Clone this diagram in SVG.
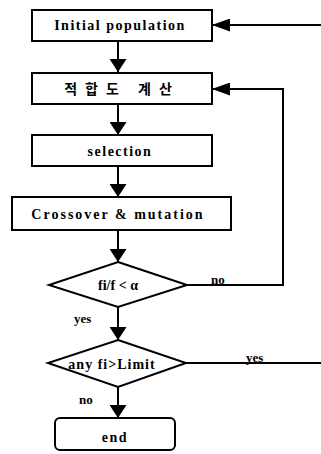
<svg xmlns="http://www.w3.org/2000/svg" width="321" height="454" viewBox="0 0 321 454">
<style>
.box{fill:#fff;stroke:#000;stroke-width:2}
.ln{fill:none;stroke:#000;stroke-width:2}
.t{font-family:"Liberation Serif","Noto Sans CJK KR",serif;font-size:14px;font-weight:bold;fill:#000;text-anchor:middle}
.k{font-family:"Noto Sans CJK KR",sans-serif;font-size:14px;font-weight:bold;fill:#000;text-anchor:middle}
.lab{font-family:"Liberation Serif",serif;font-size:13px;font-weight:bold;fill:#000}
</style>
<defs>
<marker id="ah" viewBox="0 0 10 10" refX="10" refY="5" markerWidth="18" markerHeight="13" markerUnits="userSpaceOnUse" orient="auto" preserveAspectRatio="none">
<path d="M0,0 L10,5 L0,10 Z" fill="#000"/>
</marker>
<marker id="av" viewBox="0 0 10 10" refX="10" refY="5" markerWidth="13" markerHeight="17" markerUnits="userSpaceOnUse" orient="auto" preserveAspectRatio="none">
<path d="M0,0 L10,5 L0,10 Z" fill="#000"/>
</marker>
</defs>
<g id="connectors">
<path class="ln" d="M118,41 V72" marker-end="url(#av)"/>
<path class="ln" d="M118,104 V135" marker-end="url(#av)"/>
<path class="ln" d="M118,166 V197" marker-end="url(#av)"/>
<path class="ln" d="M118,230 V262" marker-end="url(#av)"/>
<path class="ln" d="M118,307 V340" marker-end="url(#av)"/>
<path class="ln" d="M118,387 V418" marker-end="url(#av)"/>
<path class="ln" d="M187,285 H283 V89 H212" marker-end="url(#ah)"/>
<path class="ln" d="M321,25 H212" marker-end="url(#ah)"/>
<path class="ln" d="M186,363 H321"/>
<text class="lab" x="211" y="284">no</text>
<text class="lab" x="246" y="362">yes</text>
<text class="lab" x="74" y="323">yes</text>
<text class="lab" x="79" y="404">no</text>
</g>
<g id="init">
<rect class="box" x="32" y="10" width="180" height="31"/>
<text class="t" x="120" y="30" letter-spacing="1.5">Initial population</text>
</g>
<g id="fitness">
<rect class="box" x="32" y="73" width="180" height="31"/>
<text class="k" x="122" y="94" letter-spacing="8">적합도 계산</text>
</g>
<g id="selection">
<rect class="box" x="32" y="135" width="180" height="31"/>
<text class="t" x="120" y="156" letter-spacing="1.5">selection</text>
</g>
<g id="crossover">
<rect class="box" x="12" y="197" width="219" height="33"/>
<text class="t" x="118" y="219" letter-spacing="2">Crossover &amp; mutation</text>
</g>
<g id="cond1">
<polygon class="box" points="118,262 187,285 118,307 49,285"/>
<text class="t" x="118" y="290" font-weight="normal">fi/f &lt; α</text>
</g>
<g id="cond2">
<polygon class="box" points="118,340 186,363 118,387 48,363"/>
<text class="t" x="112" y="369" letter-spacing="1">any fi&gt;Limit</text>
</g>
<g id="end">
<rect class="box" x="55" y="418" width="120" height="32" rx="5"/>
<text class="t" x="115" y="442" letter-spacing="1.5">end</text>
</g>
</svg>
